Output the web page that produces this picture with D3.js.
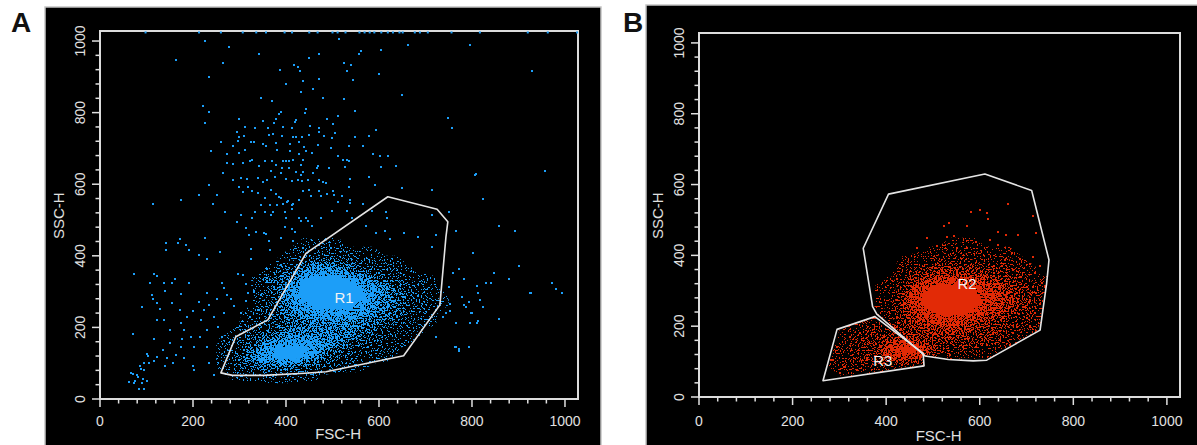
<!DOCTYPE html>
<html>
<head>
<meta charset="utf-8">
<script src="https://cdn.jsdelivr.net/npm/d3@7"></script>
<style>
  body { margin: 0; background: #ffffff; }
  svg { display: block; }
  text { font-family: "Liberation Sans", Arial, "DejaVu Sans", sans-serif; }
</style>
</head>
<body>
<svg id="chart" width="1197" height="445"></svg>
<script>
// ---------------- data (channel units, 0–1024 scale) ----------------
const channelMax = 1028;
const majorTicks = [0, 200, 400, 600, 800, 1000];
const minorTicks = [40, 80, 120, 160, 240, 280, 320, 360, 440, 480, 520, 560,
                    640, 680, 720, 760, 840, 880, 920, 960];
const xTitle = "FSC-H";
const yTitle = "SSC-H";

// Panel A: individual events outside the dense core [FSC, SSC]
const eventsA = [
  [226,1001],[515,1006],[278,982],[341,963],[472,963],[450,952],[558,963],[562,971],[605,976],[662,988],[795,988],
  [163,948],[265,939],[418,934],[425,928],[430,915],[387,919],[524,939],[540,934],[531,915],[600,909],[235,900],
  [472,894],[437,887],[400,881],[545,891],[459,867],[433,857],[346,842],[370,833],[480,842],[524,839],[650,848],
  [222,818],[235,803],[443,811],[440,800],[389,801],[386,796],[548,805],[298,781],[226,772],[350,777],[379,783],
  [422,779],[420,773],[489,781],[511,790],[748,786],[756,757],[311,760],[333,757],[361,757],[374,770],[393,760],
  [413,757],[452,762],[472,757],[501,768],[593,751],[294,747],[298,732],[310,736],[325,719],[331,718],[363,738],
  [373,740],[391,736],[414,732],[422,732],[435,731],[450,738],[472,747],[481,736],[498,729],[506,744],[548,732],
  [578,736],[261,718],[285,708],[297,721],[350,712],[358,706],[379,716],[409,712],[427,719],[439,703],[469,710],
  [496,701],[535,708],[565,708],[239,693],[274,684],[298,686],[312,695],[380,695],[409,693],[429,684],[443,692],
  [455,688],[511,680],[522,669],[532,667],[535,665],[587,684],[603,680],[620,680],[274,660],[285,656],[308,660],
  [323,664],[327,667],[343,652],[354,664],[369,665],[393,665],[400,664],[407,665],[416,667],[437,669],[432,654],
  [379,654],[391,645],[406,645],[422,634],[433,626],[437,634],[458,632],[466,645],[469,651],[493,645],[526,649],
  [604,647],[637,651],[806,626],[265,632],[287,611],[304,617],[317,615],[340,617],[350,606],[360,611],[367,638],
  [376,621],[389,630],[400,615],[413,608],[426,613],[435,610],[447,611],[472,611],[479,606],[486,602],[537,615],
  [578,619],[591,598],[235,598],[298,593],[307,578],[318,593],[327,580],[340,576],[354,561],[367,585],[379,572],
  [386,563],[389,561],[404,552],[402,550],[413,543],[427,557],[436,580],[450,585],[453,567],[470,580],[476,567],
  [489,574],[502,582],[503,571],[512,550],[521,567],[535,593],[538,557],[538,548],[650,589],[713,584],[113,546],
  [175,556],[213,571],[244,546],[252,571],[268,522],[294,494],[304,515],[315,477],[327,505],[333,522],[346,543],
  [354,522],[366,543],[367,515],[373,522],[380,543],[393,544],[413,531],[397,522],[400,505],[414,544],[429,507],
  [433,498],[442,507],[447,498],[455,483],[476,507],[498,526],[531,526],[542,505],[565,544],[585,526],[615,522],
  [617,507],[715,513],[750,522],[765,470],[397,481],[412,474],[419,466],[353,464],[357,461],[335,466],[321,457],
  [364,442],[389,451],[414,440],[226,449],[172,446],[167,436],[142,435],[185,429],[192,416],[142,416],[213,401],
  [231,392],[257,410],[324,418],[325,390],[366,416],[437,423],[572,483],[594,463],[612,470],[624,446],[653,464],
  [684,453],[715,425],[722,459],
  [73,349],[116,349],[123,344],[138,323],[108,323],[154,325],[161,334],[192,323],[175,293],[139,303],[111,290],
  [113,280],[91,258],[122,269],[129,252],[154,269],[172,249],[201,245],[213,271],[231,295],[235,263],[251,278],
  [263,325],[266,310],[274,290],[281,280],[289,260],[296,349],[307,345],[313,321],[319,297],[332,299],[346,290],
  [360,338],[359,327],[375,314],[314,273],[303,239],[323,230],[343,249],[224,249],[246,228],[266,239],[188,228],
  [217,221],[174,211],[138,222],[123,221],[151,193],[116,167],[70,182],[181,193],[195,174],[214,172],[177,168],
  [231,193],[253,202],[263,174],[231,146],[202,146],[174,144],[151,157],[136,137],[164,124],[144,114],[181,114],
  [123,118],[102,127],[103,120],[95,101],[116,107],[139,92],[157,101],[200,92],[203,81],[235,100],[246,66],
  [85,92],[88,85],[66,72],[70,70],[79,66],[82,62],[62,47],[73,44],[76,51],[92,57],[90,44],[102,51],[83,29],
  [95,27],[95,81],[106,101],[303,64],[389,375],[360,362],
  [808,628],[956,638],[823,560],[859,483],[892,470],[803,407],[901,372],[772,364],[848,353],[782,334],[831,325],
  [841,325],[879,334],[973,325],[981,306],[994,297],[924,295],[810,316],[759,351],[750,314],[779,286],[793,271],
  [813,297],[787,258],[800,241],[823,258],[858,224],[744,241],[766,211],[796,211],[810,211],[737,230],[723,174],
  [773,139],[766,144],[753,247],[752,265],[782,262],[798,239],[812,219],[859,223],[764,144],[772,135],[793,144],
  [927,297],[993,295],[817,277],[930,916]
];
// Panel A: events piled up at the SSC ceiling (FSC value only)
const saturatedA = [98,213,260,307,336,357,397,413,450,468,500,511,528,558,569,580,590,605,619,630,644,651,
                    677,688,705,756,817,920,963,1026];

// Dense core event density, 25-channel bins, levels 0–9 (first row = lowest SSC bin)
const densityBin = 25;
const densityOriginA = [225, 50];
const densityRowsA = [
  "0011122211000000000000",
  "0123455543211100000000",
  "0135789986432211000000",
  "0124689998643321100000",
  "0123467888765432110000",
  "0012345666666543211000",
  "0001234556666654321100",
  "0001234678888765432100",
  "0000135789999876532110",
  "0000135899999986543210",
  "0000125799999876432100",
  "0000124689998754321100",
  "0000013467765432210000",
  "0000001234433221100000",
  "0000000122221110000000",
  "0000000011110000000000"
];
const densityOriginB = [275, 50];
const densityRowsB = [
  "01111100000000000000",
  "12233332100000000000",
  "13345788521111000000",
  "12346899643332210000",
  "02345666555544321000",
  "01233445666655432100",
  "00122346777765543210",
  "00001357899987654320",
  "00001368999998765320",
  "00001258999998764320",
  "00001247899987654310",
  "00000135677766543210",
  "00000023455544332100",
  "00000012233332221000",
  "00000000112221110000",
  "00000000001110000000"
];

// Panel B: individual gated events outside the dense core
const eventsB = [
  [661,545],[581,523],[600,528],[615,520],[618,504],[524,483],[535,490],[572,483],[640,467],[657,457],[682,457],
  [714,511],[721,462],[487,448],[529,451],[545,454],[593,438],[622,443],[640,429],[509,426],[465,422],[551,420],
  [572,422],[670,406],[686,389],[714,396],[729,370],[707,375],[719,349],[732,323],[739,311],[721,293],[707,274],
  [729,264],[718,236],[700,222],[679,199],[672,180],[643,161],[665,147],[615,146],[593,142],[565,142],[536,118],
  [497,114],[282,104],[654,387],[672,358],[686,340],[700,311],[679,293],[693,255],[707,198],[714,311],[650,227],
  [629,180],[294,142],[287,104],[309,86],[323,170],[344,180],[301,67],[337,76],[358,104]
];

// Gate polygons [FSC, SSC]
const gateR1 = [[260,73],[285,66],[353,66],[440,72],[486,76],[653,121],[731,263],[744,453],[748,495],
                [725,530],[619,565],[443,407],[361,221],[292,174]];
const gateR2 = [[405,573],[611,630],[711,583],[748,387],[743,321],[729,189],[615,104],[586,102],[533,106],
                [483,116],[380,234],[371,255],[351,420]];
const gateR3 = [[295,191],[376,227],[479,123],[481,88],[265,46]];
const gateNames = ["R1", "R2", "R3"];
const gateLabelAt = [[525,282],[573,319],[393,102]];

// ---------------- drawing ----------------
const svg = d3.select("#chart");
const defs = svg.append("defs");
// share of pixels lit by events at each density level
const levelTone = [0, 0.06, 0.12, 0.20, 0.30, 0.42, 0.56, 0.72, 0.87, 1.0];

const panels = [
  { letter: "A", bg: [45, 7, 556, 440], frame: [100, 578, 31, 399], letterX: 11,
    color: "#1c9ef8", events: eventsA, saturated: saturatedA,
    densityRows: densityRowsA, densityOrigin: densityOriginA,
    gates: [gateR1], labels: [0], clipToGates: false, titleY: 439 },
  { letter: "B", bg: [646, 5, 552, 442], frame: [699, 1180, 33, 397], letterX: 623,
    color: "#e22a06", events: eventsB, saturated: [],
    densityRows: densityRowsB, densityOrigin: densityOriginB,
    gates: [gateR2, gateR3], labels: [1, 2], clipToGates: true, titleY: 441 }
];

// Renders a grey density map as individual lit pixels of the event colour
function eventDither(id, color, seed, region) {
  const f = defs.append("filter").attr("id", id)
    .attr("filterUnits", "userSpaceOnUse")
    .attr("x", region[0]).attr("y", region[1]).attr("width", region[2]).attr("height", region[3])
    .attr("color-interpolation-filters", "sRGB");
  f.append("feTurbulence").attr("type", "fractalNoise").attr("baseFrequency", 0.62)
    .attr("numOctaves", 2).attr("seed", seed).attr("result", "noise");
  f.append("feColorMatrix").attr("in", "noise").attr("type", "matrix")
    .attr("values", "0 0 0 0 0  0 0 0 0 0  0 0 0 0 0  3.2 0 0 0 -1.1").attr("result", "noiseA");
  f.append("feColorMatrix").attr("in", "SourceGraphic").attr("type", "matrix")
    .attr("values", "0 0 0 0 0  0 0 0 0 0  0 0 0 0 0  1 0 0 0 0").attr("result", "densA");
  f.append("feComposite").attr("in", "densA").attr("in2", "noiseA").attr("operator", "arithmetic")
    .attr("k1", 0).attr("k2", 1).attr("k3", -1).attr("k4", 0.02).attr("result", "diff");
  const ct = f.append("feComponentTransfer").attr("in", "diff").attr("result", "lit");
  ct.append("feFuncA").attr("type", "linear").attr("slope", 60).attr("intercept", 0);
  // only where the density map itself is drawn
  f.append("feComposite").attr("in", "lit").attr("in2", "SourceAlpha").attr("operator", "in").attr("result", "mask");
  f.append("feFlood").attr("flood-color", color).attr("result", "ink");
  f.append("feComposite").attr("in", "ink").attr("in2", "mask").attr("operator", "in");
}

panels.forEach((p, pi) => {
  const [fx0, fx1, fy0, fy1] = p.frame;
  const x = d3.scaleLinear().domain([0, channelMax]).range([fx0, fx1]);
  const y = d3.scaleLinear().domain([0, channelMax]).range([fy1, fy0]);
  const g = svg.append("g");

  // panel background
  g.append("rect")
    .attr("x", p.bg[0]).attr("y", p.bg[1]).attr("width", p.bg[2]).attr("height", p.bg[3])
    .attr("fill", "#000").attr("stroke", "#c4c4c4").attr("stroke-width", 1.5);

  // panel letter
  svg.append("text").attr("x", p.letterX).attr("y", 32)
    .attr("font-size", 28).attr("font-weight", "bold").attr("fill", "#111")
    .text(p.letter);

  const gatePoly = pts => "M" + pts.map(d => [x(d[0]), y(d[1])].join(",")).join("L") + "Z";

  // gated display shows only events inside the gates
  let clipUrl = null;
  if (p.clipToGates) {
    const cp = defs.append("clipPath").attr("id", "gates" + pi);
    p.gates.forEach(pts => cp.append("path").attr("d", gatePoly(pts)));
    clipUrl = "url(#gates" + pi + ")";
  }

  // dense core: density contours turned into lit event pixels
  eventDither("dither" + pi, p.color, 7 + pi * 11, [fx0, fy0, fx1 - fx0, fy1 - fy0]);
  const rows = p.densityRows;
  const n = rows[0].length + 2, m = rows.length + 2;
  const values = new Array(n * m).fill(0);
  rows.forEach((r, j) => { for (let i = 0; i < r.length; i++) values[(j + 1) * n + i + 1] = +r[i]; });
  const ox = p.densityOrigin[0] - densityBin, oy = p.densityOrigin[1] - densityBin;
  const contours = d3.contours().size([n, m]).thresholds([0.5,1.5,2.5,3.5,4.5,5.5,6.5,7.5,8.5])(values);
  const proj = d3.geoTransform({
    point(px, py) { this.stream.point(x(ox + px * densityBin), y(oy + py * densityBin)); }
  });
  const path = d3.geoPath(proj);
  const grey = v => { const t = Math.round(levelTone[Math.round(v + 0.5)] * 255); return `rgb(${t},${t},${t})`; };
  const clipG = g.append("g");
  if (clipUrl) clipG.attr("clip-path", clipUrl);
  const dg = clipG.append("g").attr("filter", `url(#dither${pi})`);
  dg.selectAll("path").data(contours).join("path")
    .attr("d", path).attr("fill", d => grey(d.value));

  // individual events
  const eg = g.append("g").attr("shape-rendering", "crispEdges");
  if (clipUrl) eg.attr("clip-path", clipUrl);
  eg.selectAll("rect").data(p.events).join("rect")
    .attr("x", d => Math.round(x(d[0])) - 1).attr("y", d => Math.round(y(d[1])) - 1)
    .attr("width", 2).attr("height", 2).attr("fill", p.color);

  // plot frame
  g.append("rect")
    .attr("x", fx0).attr("y", fy0).attr("width", fx1 - fx0).attr("height", fy1 - fy0)
    .attr("fill", "none").attr("stroke", "#dcdcdc").attr("stroke-width", 2);

  // events at the SSC ceiling
  g.append("g").selectAll("rect").data(p.saturated).join("rect")
    .attr("x", d => x(d) - 1).attr("y", y(1024) - 1)
    .attr("width", 2).attr("height", 2).attr("fill", p.color);

  // gates
  p.gates.forEach(pts => {
    g.append("path").attr("d", gatePoly(pts))
      .attr("fill", "none").attr("stroke", "#e4e4e4").attr("stroke-width", 1.6)
      .attr("stroke-linejoin", "round");
  });
  p.labels.forEach(li => {
    g.append("text").attr("x", x(gateLabelAt[li][0])).attr("y", y(gateLabelAt[li][1]))
      .attr("dy", "0.36em").attr("text-anchor", "middle")
      .attr("font-size", 15).attr("fill", "#f2f2f2").text(gateNames[li]);
  });

  // axes: ticks
  const axisColor = "#e0e0e0";
  const ax = g.append("g").attr("stroke", axisColor).attr("stroke-width", 1.5);
  ax.selectAll(".xt").data(majorTicks.concat(minorTicks)).join("line")
    .attr("class", "xt")
    .attr("x1", d => x(d)).attr("x2", d => x(d))
    .attr("y1", fy1).attr("y2", d => fy1 + (majorTicks.includes(d) ? 8 : 4.5));
  ax.selectAll(".yt").data(majorTicks.concat(minorTicks)).join("line")
    .attr("class", "yt")
    .attr("y1", d => y(d)).attr("y2", d => y(d))
    .attr("x1", fx0).attr("x2", d => fx0 - (majorTicks.includes(d) ? 8 : 4.5));

  // tick labels
  g.append("g").selectAll("text").data(majorTicks).join("text")
    .attr("x", d => x(d)).attr("y", 426).attr("text-anchor", "middle")
    .attr("font-size", 14).attr("fill", axisColor).text(d => d);
  g.append("g").selectAll("text").data(majorTicks).join("text")
    .attr("transform", d => `translate(${fx0 - 20},${y(d)}) rotate(-90)`)
    .attr("dy", "0.36em").attr("text-anchor", "middle")
    .attr("font-size", 14).attr("fill", axisColor).text(d => d);

  // axis titles
  g.append("text").attr("x", x(512)).attr("y", p.titleY).attr("text-anchor", "middle")
    .attr("font-size", 15).attr("fill", axisColor).text(xTitle);
  g.append("text")
    .attr("transform", `translate(${fx0 - 41},${y(512)}) rotate(-90)`)
    .attr("dy", "0.36em").attr("text-anchor", "middle")
    .attr("font-size", 15).attr("fill", axisColor).text(yTitle);
});
</script>
</body>
</html>
